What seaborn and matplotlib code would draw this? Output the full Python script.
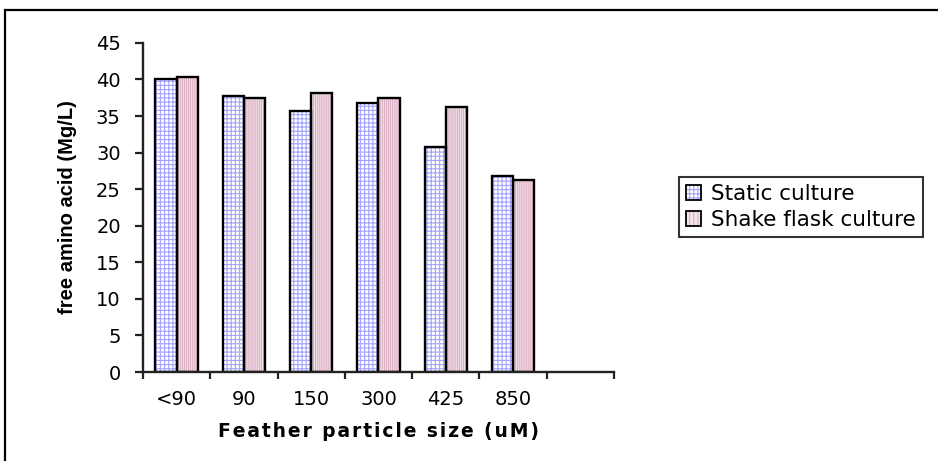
import matplotlib
matplotlib.use("Agg")
import matplotlib.pyplot as plt
import matplotlib.patches as mpatches
from matplotlib.legend_handler import HandlerTuple
import seaborn as sns
import pandas as pd
import numpy as np

# Data
sizes = ["<90", "90", "150", "300", "425", "850"]
static_culture = [40.0, 37.7, 35.7, 36.8, 30.7, 26.8]
shake_flask = [40.3, 37.4, 38.1, 37.4, 36.2, 26.3]
series_names = ["Static culture", "Shake flask culture"]
y_ticks = [0, 5, 10, 15, 20, 25, 30, 35, 40, 45]

df = pd.DataFrame({
    "size": sizes * 2,
    "value": static_culture + shake_flask,
    "series": [series_names[0]] * len(sizes) + [series_names[1]] * len(sizes),
})

sns.set_theme(style="white")
plt.rcParams["font.family"] = ["DejaVu Sans"]
plt.rcParams["hatch.linewidth"] = 0.8
plt.rcParams["text.color"] = "black"
plt.rcParams["axes.labelcolor"] = "black"
plt.rcParams["xtick.color"] = "black"
plt.rcParams["ytick.color"] = "black"

fig = plt.figure(figsize=(9.38, 4.61), dpi=100)
ax = fig.add_axes([0.1525, 0.193, 0.502, 0.714])

styles = {
    series_names[0]: dict(face="white", hatch="++++", hcolor="#a3a3ff"),
    series_names[1]: dict(face="#f4e3eb", hatch="||||||||", hcolor="#d9afc4"),
}

sns.barplot(data=df, x="size", y="value", hue="series", order=sizes,
            hue_order=series_names, width=0.63, ax=ax, legend=False,
            palette=[styles[n]["face"] for n in series_names],
            linewidth=0, saturation=1)

# Hatch fill (hatch takes the edge colour), then a black outline on top
for container, name in zip(ax.containers, series_names):
    st = styles[name]
    for p in container.patches:
        p.set_facecolor(st["face"])
        p.set_hatch(st["hatch"])
        p.set_edgecolor(st["hcolor"])
        p.set_linewidth(0)
        ax.add_patch(mpatches.Rectangle(p.get_xy(), p.get_width(), p.get_height(),
                                        fill=False, edgecolor="black",
                                        linewidth=1.7, zorder=p.get_zorder() + 0.1))

# Axes styling
ax.set_xlim(-0.5, 6.5)
ax.set_ylim(0, 45)
ax.set_yticks(y_ticks)
ax.set_yticklabels([str(t) for t in y_ticks], fontsize=14)
ax.set_xticks(range(len(sizes)))
ax.set_xticklabels(sizes, fontsize=14)
ax.set_xticks(np.arange(-0.5, 7.0, 1.0), minor=True)
ax.tick_params(axis="x", which="major", length=0, pad=13, labelcolor="black")
ax.tick_params(axis="x", which="minor", length=5, width=1.6, direction="out",
               bottom=True, color="#222222")
ax.tick_params(axis="y", which="major", length=6, width=1.6, direction="out",
               left=True, color="#222222", pad=10, labelcolor="black")
for s in ["top", "right"]:
    ax.spines[s].set_visible(False)
for s in ["left", "bottom"]:
    ax.spines[s].set_color("#222222")
    ax.spines[s].set_linewidth(1.7)
ax.grid(False)

xlabel = "\u200a".join("Feather particle size (uM)")
ax.set_xlabel(xlabel, fontsize=13.5, fontweight="bold", labelpad=9,
              color="black")
ax.set_ylabel("free amino acid (Mg/L)", fontsize=14.5, fontweight="bold",
              family=["Liberation Sans Narrow", "Liberation Sans", "DejaVu Sans"],
              labelpad=14, color="black")

# Legend: hatched swatch with a black outline laid over it
handles = []
for name in series_names:
    st = styles[name]
    fill = mpatches.Patch(facecolor=st["face"], hatch=st["hatch"][:4],
                          edgecolor=st["hcolor"], linewidth=0)
    outline = mpatches.Patch(fill=False, edgecolor="black", linewidth=1.3)
    handles.append((fill, outline))
leg = fig.legend(handles=handles, labels=series_names, loc="center left",
                 bbox_to_anchor=(0.724, 0.551), fontsize=15.5, frameon=True,
                 fancybox=False, edgecolor="black", handlelength=0.7,
                 handleheight=0.7, handletextpad=0.5, borderpad=0.3,
                 labelspacing=0.3, borderaxespad=0,
                 handler_map={tuple: HandlerTuple(ndivide=1, pad=0)})
leg.get_frame().set_linewidth(1.5)
for t in leg.get_texts():
    t.set_color("black")

# Outer frame
fig.patches.append(mpatches.Rectangle((5 / 938, -0.05), 1.0, 1 - 10 / 461 + 0.05,
                                      transform=fig.transFigure, fill=False,
                                      edgecolor="black", linewidth=1.6))

fig.savefig("out.png", dpi=100)
